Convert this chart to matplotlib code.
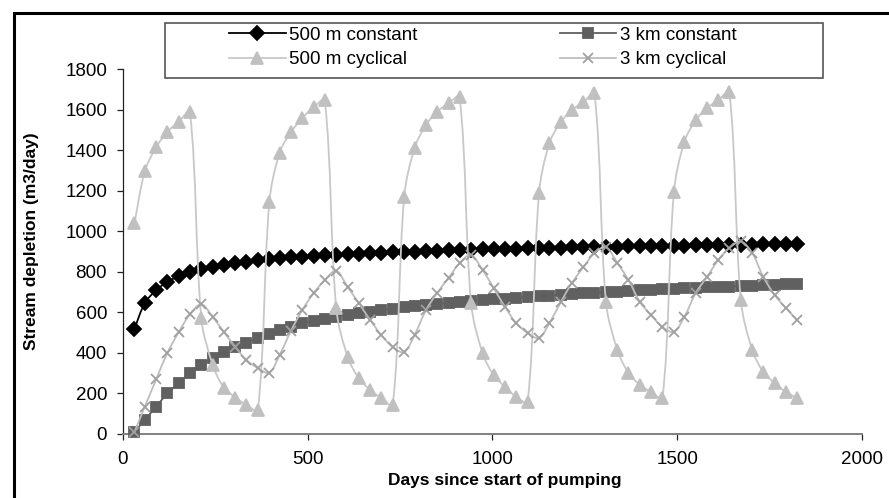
import numpy as np
import matplotlib
matplotlib.use('Agg')
import matplotlib.pyplot as plt
from matplotlib.path import Path
from matplotlib.patches import PathPatch, Rectangle
from matplotlib.lines import Line2D

plt.rcParams['font.family'] = ['Liberation Sans', 'DejaVu Sans']

# dias (fin de cada mes, 5 años)
days = [31, 59, 90, 120, 151, 181, 212, 243, 273, 304, 334, 365,
        396, 424, 455, 485, 516, 546, 577, 608, 638, 669, 699, 730,
        761, 789, 820, 850, 881, 911, 942, 973, 1003, 1034, 1064, 1095,
        1126, 1154, 1185, 1215, 1246, 1276, 1307, 1338, 1368, 1399, 1429, 1460,
        1491, 1519, 1550, 1580, 1611, 1641, 1672, 1703, 1733, 1764, 1794, 1825]

const_500m = [520, 645, 710, 750, 778, 798, 812, 824, 834, 843, 850, 856,
              862, 867, 871, 875, 878, 881, 884, 887, 889, 892, 894, 896,
              898, 900, 902, 903, 905, 907, 908, 910, 911, 912, 914, 915,
              916, 917, 919, 920, 921, 922, 923, 924, 925, 926, 927, 928,
              929, 929, 930, 931, 932, 933, 933, 934, 935, 936, 936, 937]

const_3km = [10, 70, 135, 200, 250, 300, 340, 375, 405, 430, 450, 472,
             492, 512, 528, 545, 557, 568, 578, 588, 596, 604, 611, 618,
             624, 630, 636, 641, 646, 651, 656, 660, 664, 668, 672, 676,
             680, 683, 687, 690, 693, 696, 699, 702, 705, 708, 710, 713,
             715, 718, 720, 723, 725, 727, 730, 732, 734, 736, 738, 740]

cyc_500m = [1040, 1295, 1415, 1490, 1540, 1590, 570, 340, 228, 180, 143, 118,
            1142, 1388, 1490, 1558, 1612, 1647, 621, 380, 276, 217, 178, 143,
            1169, 1410, 1524, 1588, 1632, 1662, 646, 399, 291, 232, 183, 158,
            1188, 1435, 1538, 1598, 1637, 1680, 651, 414, 301, 242, 207, 178,
            1193, 1440, 1548, 1607, 1647, 1686, 661, 414, 306, 251, 207, 178]

cyc_3km = [10, 135, 270, 400, 503, 590, 640, 577, 503, 429, 365, 325,
           302, 390, 510, 611, 695, 759, 805, 725, 646, 562, 488, 429,
           404, 488, 611, 695, 769, 843, 883, 809, 720, 626, 547, 498,
           473, 547, 651, 745, 823, 892, 922, 843, 759, 651, 587, 528,
           503, 577, 695, 774, 858, 917, 950, 892, 774, 685, 621, 562]

labels = ['500 m constant', '3 km constant', '500 m cyclical', '3 km cyclical']


def curva_suave(ax, x, y, t=1/3.):
    # linea suavizada tipo Excel: bezier, puntos de control escalados
    # por la longitud de los tramos (en pixeles)
    pts = ax.transData.transform(np.column_stack([x, y]).astype(float))
    n = len(pts)
    cin = np.zeros_like(pts)
    cout = np.zeros_like(pts)
    for i in range(n):
        p0 = pts[i - 1] if i > 0 else pts[i]
        p2 = pts[i + 1] if i < n - 1 else pts[i]
        d01 = np.hypot(*(pts[i] - p0))
        d12 = np.hypot(*(p2 - pts[i]))
        tot = d01 + d12 if d01 + d12 > 0 else 1.0
        cin[i] = pts[i] - t * d01 / tot * (p2 - p0)
        cout[i] = pts[i] + t * d12 / tot * (p2 - p0)
    verts = [pts[0]]
    codes = [Path.MOVETO]
    for i in range(n - 1):
        verts += [cout[i], cin[i + 1], pts[i + 1]]
        codes += [Path.CURVE4] * 3
    verts = ax.transData.inverted().transform(np.array(verts))
    return Path(verts, codes)


fig = plt.figure(figsize=(8.89, 4.98), dpi=100)
ax = fig.add_axes([123/889, 1 - 434/498, 739/889, 365/498])
ax.set_xlim(0, 2000)
ax.set_ylim(0, 1800)

series = [
    (const_500m, '#000000', '#000000', 'D', 6.8, 1.3),
    (const_3km, '#606060', '#606060', 's', 7.5, 1.3),
    (cyc_500m, '#c8c8c8', '#c0c0c0', '^', 8.5, 1.3),
    (cyc_3km, '#bdbdbd', '#a0a0a0', 'x', 7.5, 1.3),
]

handles = []
for i, (vals, lc, mc, mk, ms, lw) in enumerate(series):
    ax.add_patch(PathPatch(curva_suave(ax, days, vals), facecolor='none',
                           edgecolor=lc, lw=lw, zorder=2 + 2*i))
    ax.plot(days, vals, linestyle='none', marker=mk, ms=ms, color=mc,
            mec=mc, mew=1.3, zorder=3 + 2*i, clip_on=False)
    handles.append(Line2D([], [], color=lc, lw=lw, marker=mk, ms=ms,
                          mfc=mc, mec=mc, mew=1.3))

ax.set_xticks([0, 500, 1000, 1500, 2000])
ax.set_yticks(range(0, 1801, 200))

for s in ['top', 'right']:
    ax.spines[s].set_visible(False)
ax.spines['left'].set_color('#222222')
ax.spines['left'].set_linewidth(0.9)
ax.spines['bottom'].set_color('#808080')
ax.spines['bottom'].set_linewidth(1.4)
ax.tick_params(axis='both', direction='out', length=4.5, width=0.9,
               color='#222222', labelsize=13.5)
ax.tick_params(axis='y', pad=7)
ax.tick_params(axis='x', pad=8)

ax.set_xlabel('Days since start of pumping', fontsize=12.5, fontweight='bold')
ax.set_ylabel('Stream depletion (m3/day)', fontsize=12.5, fontweight='bold')
ax.xaxis.set_label_coords(0.516, -0.108)
ax.yaxis.set_label_coords(-0.114, 0.529)

# leyenda: orden por columnas
orden = [0, 2, 1, 3]
leg = fig.legend([handles[j] for j in orden], [labels[j] for j in orden],
                 ncol=2, frameon=False, loc='center',
                 bbox_to_anchor=(483/889, 1 - 47.5/498), fontsize=13.5,
                 handlelength=3.0, handletextpad=0.2, columnspacing=7.6,
                 labelspacing=0.4, borderpad=0)
fig.add_artist(Rectangle((165/889, 1 - 78/498), 658/889, 55/498,
                         transform=fig.transFigure, fill=False,
                         edgecolor='#555555', lw=1.2))

# marco exterior
fig.add_artist(Rectangle((14/889, -0.1), 1.2, 1 - 13/498 + 0.1,
                         transform=fig.transFigure, fill=False,
                         edgecolor='black', lw=2.2))

fig.savefig('out.png', dpi=100)
